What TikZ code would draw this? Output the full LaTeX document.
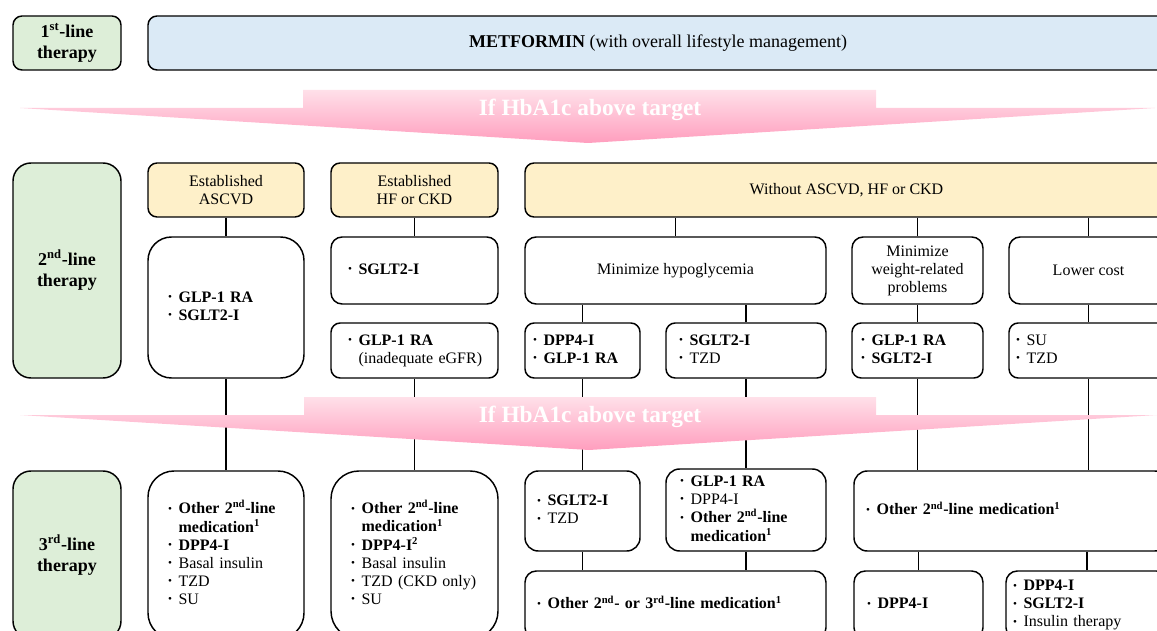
\documentclass[tikz,border=0pt]{standalone}
\usepackage{fontspec}
\setmainfont{Liberation Serif}
\usepackage{tikz}
\definecolor{cGreen}{RGB}{221,238,216}
\definecolor{cBlue}{RGB}{219,234,246}
\definecolor{cOrange}{RGB}{254,240,201}
\definecolor{cBandTop}{RGB}{255,224,233}
\definecolor{cBandBot}{RGB}{255,158,190}
\newcommand{\bodyfont}{\fontsize{12}{13.5}\selectfont}
\newcommand{\headfont}{\fontsize{13.5}{15.75}\selectfont\bfseries}
\newcommand{\bandfont}{\fontsize{17.5}{18}\selectfont\bfseries}
\newcommand{\bul}{\raisebox{.2ex}{\scalebox{.7}{\textbullet}}}
\newcommand{\lst}[1]{\begin{tabular}{@{}l@{\hspace{5pt}}l@{}}#1\end{tabular}}
\tikzset{
  sz/.code 2 args={\pgfmathsetlengthmacro\boxW{#1*0.75pt}%
    \pgfmathsetlengthmacro\boxH{#2*0.75pt}%
    \pgfmathsetlengthmacro\boxR{min(#1,#2)*0.125pt}%
    \tikzset{minimum width=\boxW,minimum height=\boxH,rounded corners=\boxR}},
  box/.style={draw,line width=1.1pt,font=\bodyfont,inner sep=0pt},
  grnbox/.style={box,fill=cGreen,align=center,font=\headfont},
  metbox/.style={box,fill=cBlue,align=center,font=\fontsize{13.5}{15}\selectfont},
  hdbox/.style={box,fill=cOrange,align=center},
  txtbox/.style={box,fill=white,align=center},
  lstbox/.code n args={3}{\pgfmathsetlengthmacro\boxI{#3*0.75pt}%
    \pgfmathsetlengthmacro\boxT{(#1-2*#3)*0.75pt}%
    \tikzset{box,fill=white,sz={#1}{#2},inner xsep=\boxI,text width=\boxT,align=left}},
  band/.style={top color=cBandTop,bottom color=cBandBot,draw=none},
  bandtxt/.style={text=white,font=\bandfont,inner sep=0pt},
  conn/.style={line width=1.1pt}
}
\begin{document}
\begin{tikzpicture}[x=0.75pt,y=-0.75pt]
  \useasboundingbox (0,0) rectangle (1157,631);
  \clip (0,0) rectangle (1157,631);

  % 1st line
  \node[grnbox,sz={108}{54}] (l1) at (67,43) {1\textsuperscript{st}-line\\therapy};
  \node[metbox,sz={1020}{54}] (met) at (658,43)
      {\textbf{METFORMIN} (with overall lifestyle management)};

  % 2nd line
  \node[grnbox,sz={108}{215}] (l2) at (67,270.5) {2\textsuperscript{nd}-line\\therapy};
  \node[hdbox,sz={156}{54}] (hasc) at (226,190) {Established\\ASCVD};
  \node[hdbox,sz={167}{54}] (hhf) at (414.5,190) {Established\\HF or CKD};
  \node[hdbox,sz={643}{54}] (hwo) at (846.5,190) {Without ASCVD, HF or CKD};

  \node[lstbox={156}{141}{20}] (asc2) at (226,307.5)
      {\lst{\bul & \textbf{GLP-1 RA}\\ \bul & \textbf{SGLT2-I}}};
  \node[lstbox={167}{67}{17}] (hf2a) at (414.5,270.5)
      {\lst{\bul & \textbf{SGLT2-I}}};
  \node[lstbox={167}{55}{17}] (hf2b) at (414.5,350.5)
      {\lst{\bul & \textbf{GLP-1 RA}\\ & (inadequate eGFR)}};

  \node[txtbox,sz={301}{67}] (hypo) at (675.5,270.5) {Minimize hypoglycemia};
  \node[txtbox,sz={131}{67}] (wgt) at (917.5,270.5) {Minimize\\weight-related\\problems};
  \node[txtbox,sz={159}{67}] (cost) at (1088.5,270.5) {Lower cost};

  \node[lstbox={115}{55}{8}] (hy1) at (582.5,350.5)
      {\lst{\bul & \textbf{DPP4-I}\\ \bul & \textbf{GLP-1 RA}}};
  \node[lstbox={160}{55}{13}] (hy2) at (746,350.5)
      {\lst{\bul & \textbf{SGLT2-I}\\ \bul & TZD}};
  \node[lstbox={131}{55}{9}] (wg2) at (917.5,350.5)
      {\lst{\bul & \textbf{GLP-1 RA}\\ \bul & \textbf{SGLT2-I}}};
  \node[lstbox={159}{55}{7}] (co2) at (1088.5,350.5)
      {\lst{\bul & SU\\ \bul & TZD}};

  % 3rd line
  \node[grnbox,sz={108}{168}] (l3) at (67,555) {3\textsuperscript{rd}-line\\therapy};
  \node[lstbox={156}{168}{20}] (asc3) at (226,555)
      {\lst{\bul & \textbf{Other 2\textsuperscript{nd}-line}\\
            & \textbf{medication\textsuperscript{1}}\\
            \bul & \textbf{DPP4-I}\\ \bul & Basal insulin\\ \bul & TZD\\ \bul & SU}};
  \node[lstbox={167}{168}{20}] (hf3) at (414.5,555)
      {\lst{\bul & \textbf{Other 2\textsuperscript{nd}-line}\\
            & \textbf{medication\textsuperscript{1}}\\
            \bul & \textbf{DPP4-I\textsuperscript{2}}\\ \bul & Basal insulin\\
            \bul & TZD (CKD only)\\ \bul & SU}};

  \node[lstbox={115}{80}{12}] (sg3) at (582.5,511)
      {\lst{\bul & \textbf{SGLT2-I}\\ \bul & TZD}};
  \node[lstbox={160}{82}{14}] (gl3) at (746,510)
      {\lst{\bul & \textbf{GLP-1 RA}\\ \bul & DPP4-I\\
            \bul & \textbf{Other 2\textsuperscript{nd}-line}\\
            & \textbf{medication\textsuperscript{1}}}};
  \node[lstbox={314}{80}{12}] (oth) at (1011,511)
      {\lst{\bul & \textbf{Other 2\textsuperscript{nd}-line medication\textsuperscript{1}}}};

  \node[lstbox={301}{68}{12}] (o23) at (675.5,605)
      {\lst{\bul & \textbf{Other 2\textsuperscript{nd}- or 3\textsuperscript{rd}-line medication\textsuperscript{1}}}};
  \node[lstbox={129}{68}{13}] (dpp) at (918.5,605)
      {\lst{\bul & \textbf{DPP4-I}}};
  \node[lstbox={162}{68}{7}] (rgt) at (1087,605)
      {\lst{\bul & \textbf{DPP4-I}\\ \bul & \textbf{SGLT2-I}\\ \bul & Insulin therapy}};

  % connectors
  \draw[conn] (hasc) -- (asc2);
  \draw[conn] (asc2) -- (asc3);
  \draw[conn] (hhf) -- (hf2a);
  \draw[conn] (hf2b) -- (hf3);
  \foreach \n in {hypo,wgt,cost}
    \draw[conn] (\n.north) -- (\n.north |- hwo.south);
  \draw[conn] (hy1.north) -- (hy1.north |- hypo.south);
  \draw[conn] (hy2.north) -- (hy2.north |- hypo.south);
  \draw[conn] (wgt) -- (wg2);
  \draw[conn] (cost) -- (co2);
  \draw[conn] (hy1) -- (sg3);
  \draw[conn] (hy2) -- (gl3);
  \draw[conn] (wg2.south) -- (wg2.south |- oth.north);
  \draw[conn] (co2.south) -- (co2.south |- oth.north);
  \draw[conn] (sg3.south) -- (sg3.south |- o23.north);
  \draw[conn] (gl3.south) -- (gl3.south |- o23.north);
  \draw[conn] (dpp.north) -- (dpp.north |- oth.south);
  \draw[conn] (rgt.north) -- (rgt.north |- oth.south);

  % HbA1c arrows (over the connectors)
  \path[band] (20,108) -- (303,108) -- (303,90) -- (876,90) -- (876,108)
      -- (1155,108) -- (588,143) -- cycle;
  \node[bandtxt] (b1) at (590,110) {If HbA1c above target};
  \path[band] (20,415) -- (304,415) -- (304,397) -- (876,397) -- (876,415)
      -- (1157,415) -- (589,450) -- cycle;
  \node[bandtxt] (b2) at (590,417) {If HbA1c above target};
\end{tikzpicture}
\end{document}
